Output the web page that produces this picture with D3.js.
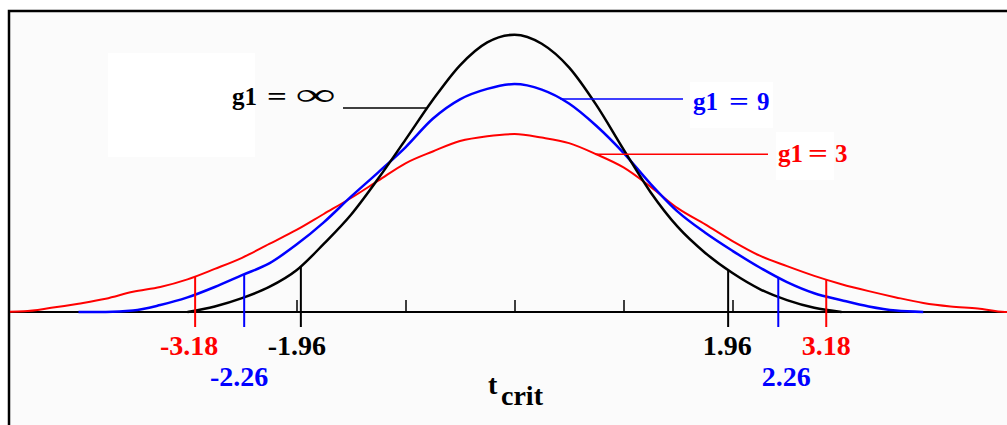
<!DOCTYPE html>
<html>
<head>
<meta charset="utf-8">
<script src="https://cdn.jsdelivr.net/npm/d3@7"></script>
<style>
  body { margin: 0; background: #fff; }
  text { font-family: "Liberation Serif", "Times New Roman", serif; font-weight: bold; }
</style>
</head>
<body>
<div class="chart"></div>
<script>
const tGrid = [-4.75, -4.5, -4.25, -4, -3.75, -3.5, -3.25, -3, -2.75, -2.5, -2.25, -2, -1.75, -1.5, -1.25, -1, -0.75, -0.5, -0.25,
  0, 0.25, 0.5, 0.75, 1, 1.25, 1.5, 1.75, 2, 2.25, 2.5, 2.75, 3, 3.25, 3.5, 3.75, 4, 4.25, 4.5, 4.75];

// curve heights (null = curve not drawn there)
const dfInf = [null, null, null, null, null, null, null, 0, 0.008, 0.020, 0.036, 0.060, 0.098, 0.140, 0.192, 0.248, 0.305, 0.355, 0.388,
  0.399, 0.386, 0.352, 0.298, 0.234, 0.172, 0.122, 0.085, 0.056, 0.033, 0.017, 0.006, 0, null, null, null, null, null, null, null];
const df9 = [null, null, null, 0, 0, 0.002, 0.010, 0.021, 0.036, 0.053, 0.070, 0.097, 0.129, 0.166, 0.201, 0.237, 0.278, 0.306, 0.321,
  0.328, 0.320, 0.300, 0.268, 0.229, 0.184, 0.144, 0.114, 0.088, 0.064, 0.043, 0.027, 0.017, 0.008, 0.002, 0, null, null, null, null];
const df3 = [0, 0.001, 0.006, 0.012, 0.019, 0.029, 0.036, 0.047, 0.062, 0.078, 0.098, 0.118, 0.141, 0.164, 0.189, 0.214, 0.231, 0.246, 0.253,
  0.256, 0.251, 0.243, 0.227, 0.208, 0.180, 0.149, 0.126, 0.102, 0.081, 0.066, 0.052, 0.040, 0.030, 0.021, 0.013, 0.008, 0.005, 0, 0];

const seriesNames = ['g1 = 3', 'g1 = 9', 'g1 = ∞'];
const legendValues = ['3', '9', '∞'];
const tickValues = [-2, -1, 0, 1, 2];

// critical value marks: label text, where the mark sits, which curve
const critLabels = ['-3.18', '-2.26', '-1.96', '1.96', '2.26', '3.18'];
const critPos = [-2.93, -2.48, -1.96, 1.96, 2.42, 2.86];
const critSeries = ['g1 = 3', 'g1 = 9', 'g1 = ∞', 'g1 = ∞', 'g1 = 9', 'g1 = 3'];

// where each legend leader line touches its curve
const legendT = [0.75, 0.42, -0.80];

const width = 1007, height = 425;
const colors = { 'g1 = 3': '#ff0000', 'g1 = 9': '#0000ff', 'g1 = ∞': '#000000' };
const strokes = { 'g1 = 3': 2, 'g1 = 9': 2.5, 'g1 = ∞': 2.5 };
const values = { 'g1 = 3': df3, 'g1 = 9': df9, 'g1 = ∞': dfInf };

const svg = d3.select('.chart')
  .append('svg')
  .attr('width', width)
  .attr('height', height);

const x = d3.scaleLinear().domain([-4, 4]).range([78.5, 950.5]);
const y = d3.scaleLinear().domain([0, 0.4]).range([312, 34]);

// background + frame
svg.append('rect')
  .attr('x', 9).attr('y', 11)
  .attr('width', width - 9).attr('height', height - 11)
  .attr('fill', '#fbfbfb');

svg.append('defs').append('clipPath').attr('id', 'plot')
  .append('rect').attr('x', 10).attr('y', 12).attr('width', width - 10).attr('height', height - 12);

// white patches left behind the labels
[[108, 53, 147, 104], [690, 82, 83, 46], [776, 132, 58, 48]].forEach(r => {
  svg.append('rect').attr('x', r[0]).attr('y', r[1]).attr('width', r[2]).attr('height', r[3]).attr('fill', '#fff');
});

svg.append('path')
  .attr('d', `M9,${height} V11 H${width}`)
  .attr('fill', 'none')
  .attr('stroke', '#000')
  .attr('stroke-width', 2.5);

// base line and ticks
svg.append('line')
  .attr('x1', 9).attr('x2', width)
  .attr('y1', y(0)).attr('y2', y(0))
  .attr('stroke', '#000').attr('stroke-width', 2);

const axis = svg.append('g')
  .attr('transform', `translate(0,${y(0)})`)
  .call(d3.axisTop(x).tickValues(tickValues).tickSize(12).tickFormat(''));
axis.select('.domain').remove();
axis.selectAll('.tick line').attr('stroke-width', 1.5);

// curves
const line = d3.line()
  .defined(d => d[1] != null)
  .x(d => x(d[0]))
  .y(d => y(d[1]))
  .curve(d3.curveMonotoneX);

const curveAt = name => {
  const pts = tGrid.map((t, i) => [t, values[name][i]]).filter(d => d[1] != null);
  return d3.scaleLinear().domain(pts.map(d => d[0])).range(pts.map(d => d[1]));
};

svg.append('g').attr('clip-path', 'url(#plot)')
  .selectAll('.curve')
  .data(seriesNames)
  .enter().append('path')
  .attr('class', 'curve')
  .attr('d', name => line(tGrid.map((t, i) => [t, values[name][i]])))
  .attr('fill', 'none')
  .attr('stroke', name => colors[name])
  .attr('stroke-width', name => strokes[name])
  .attr('stroke-linejoin', 'round');

// critical value marks
svg.selectAll('.crit')
  .data(critPos)
  .enter().append('line')
  .attr('class', 'crit')
  .attr('x1', d => x(d)).attr('x2', d => x(d))
  .attr('y1', y(0) + 15)
  .attr('y2', (d, i) => y(curveAt(critSeries[i])(d)))
  .attr('stroke', (d, i) => colors[critSeries[i]])
  .attr('stroke-width', 2);

const labelDx = [-6, -5, -4, -1, 8, 0];
svg.selectAll('.crit-label')
  .data(critLabels)
  .enter().append('text')
  .attr('class', 'crit-label')
  .attr('x', (d, i) => x(critPos[i]) + labelDx[i])
  .attr('y', (d, i) => critSeries[i] === 'g1 = 9' ? 386 : 355)
  .attr('text-anchor', 'middle')
  .attr('font-size', 28)
  .attr('fill', (d, i) => colors[critSeries[i]])
  .text(d => d);

// t crit
const tLabel = svg.append('text').attr('x', 488).attr('y', 394).attr('font-size', 28);
tLabel.append('tspan').text('t');
tLabel.append('tspan').attr('x', 501).attr('y', 405).text('crit');

// legend: leader from label to curve, then "g1 = value"
// [leader start, g1 x, '=' x, value x, baseline]
const legendLayout = [
  [768, 778, 808, 835, 162],
  [683, 693, 729, 757, 110],
  [343, 232, 267, 296, 105]
];

seriesNames.forEach((name, i) => {
  const L = legendLayout[i];
  const ly = y(curveAt(name)(legendT[i]));
  svg.append('line')
    .attr('x1', L[0]).attr('x2', x(legendT[i]))
    .attr('y1', ly).attr('y2', ly)
    .attr('stroke', colors[name])
    .attr('stroke-width', 1.5);

  const g = svg.append('g').attr('fill', colors[name]).attr('font-size', 25);
  g.append('text').attr('x', L[1]).attr('y', L[4]).text('g1');
  g.append('text')
    .attr('transform', `translate(${L[2]},${L[4]}) scale(1.4,1)`)
    .text('=');
  if (legendValues[i] === '∞') {
    g.append('text')
      .attr('transform', `translate(${L[3]},${L[4]}) scale(2.2,1.25)`)
      .text(legendValues[i]);
  } else {
    g.append('text').attr('x', L[3]).attr('y', L[4]).text(legendValues[i]);
  }
});
</script>
</body>
</html>
